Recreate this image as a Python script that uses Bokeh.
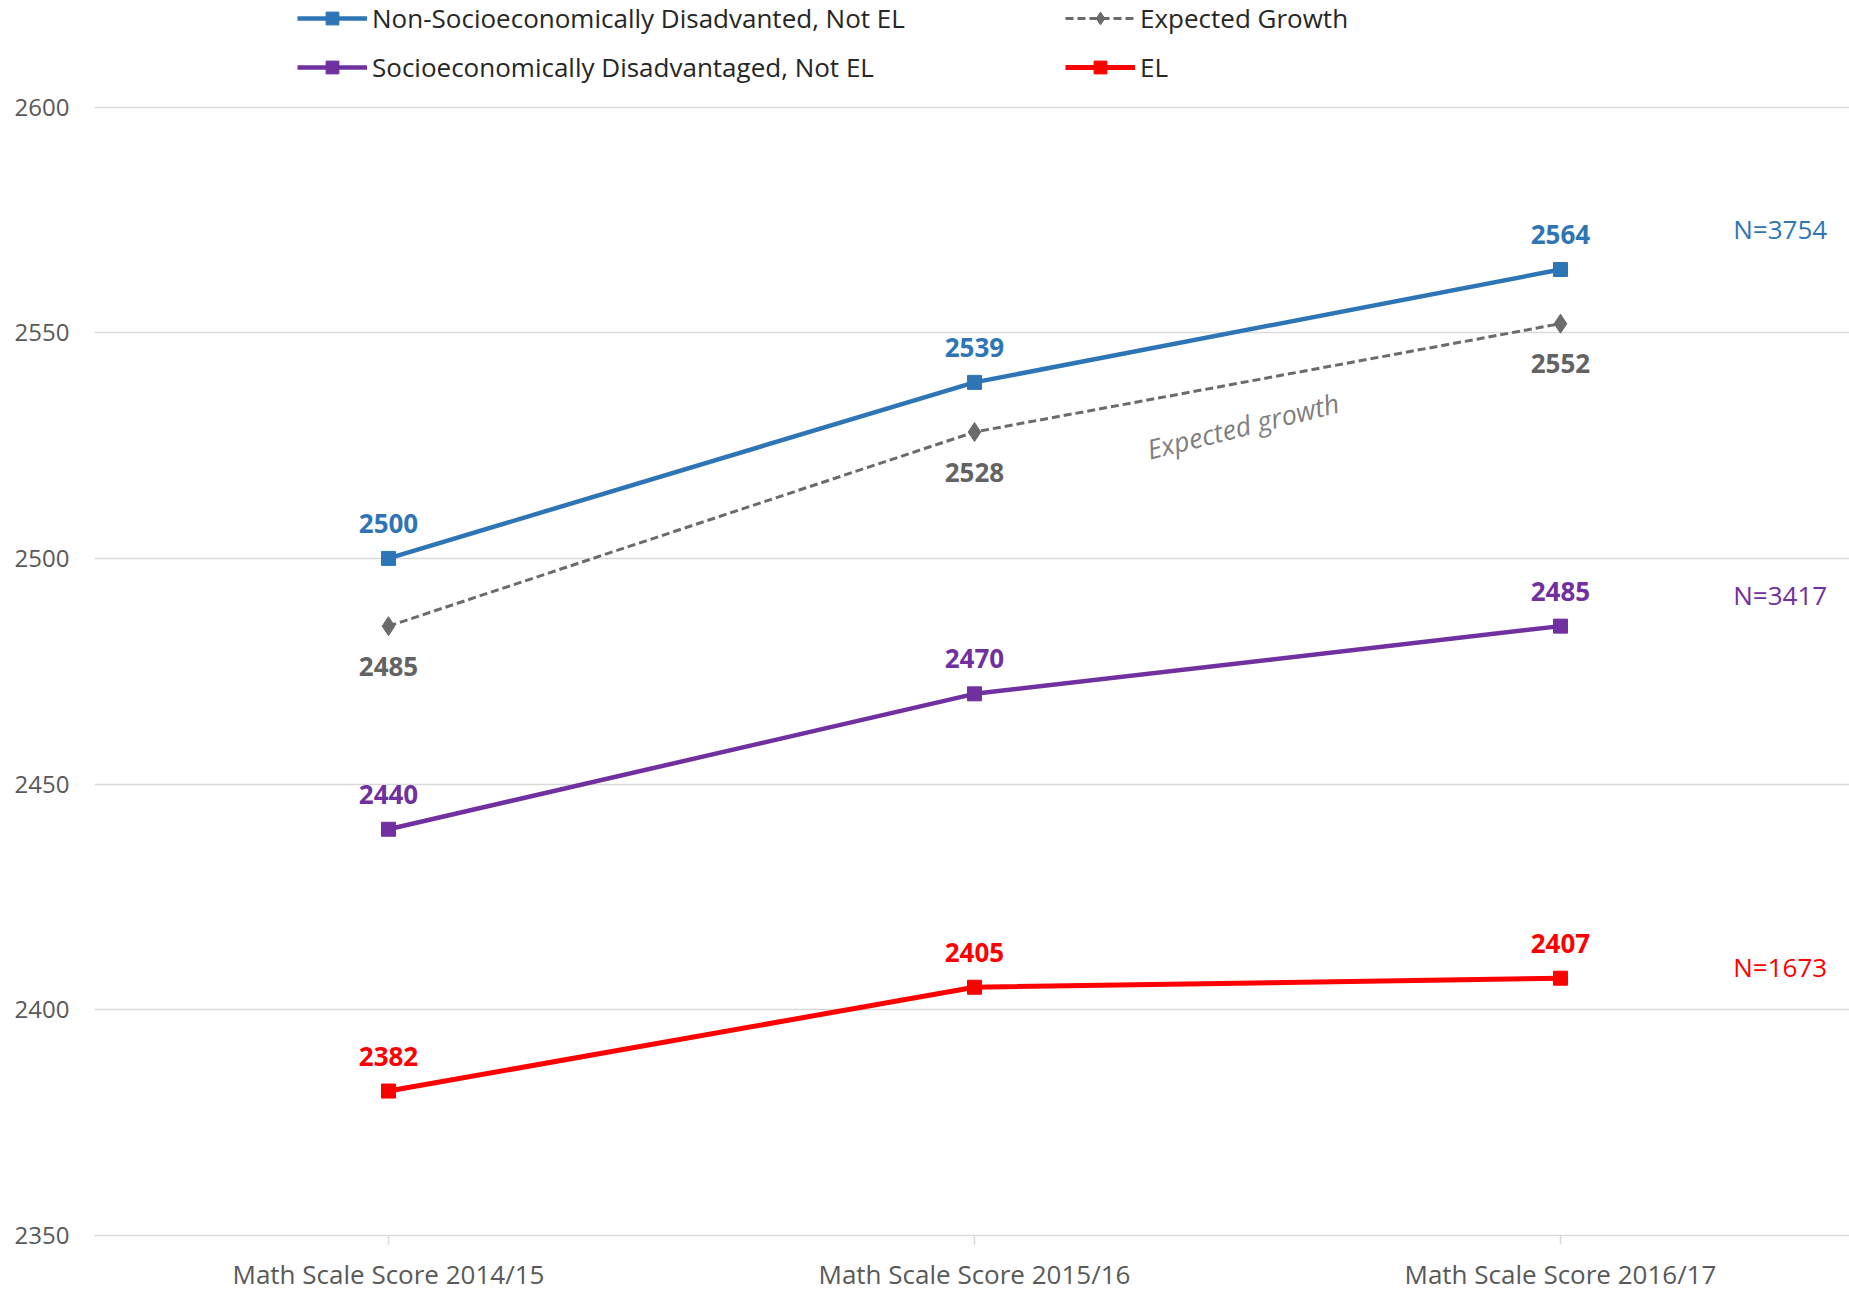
from bokeh.plotting import figure
from bokeh.models import Range1d, FixedTicker, Legend, LegendItem, ColumnDataSource, Label
from bokeh.embed import file_html
from bokeh.resources import INLINE
from bokeh.core.properties import value

categories = ["Math Scale Score 2014/15", "Math Scale Score 2015/16", "Math Scale Score 2016/17"]
non_sed = [2500, 2539, 2564]
expected = [2485, 2528, 2552]
sed = [2440, 2470, 2485]
el = [2382, 2405, 2407]
y_ticks = [2350, 2400, 2450, 2500, 2550, 2600]
n_labels = ["N=3754", "N=3417", "N=1673"]
n_label_y = [2573, 2492, 2409.5]
n_label_x = 2.375

BLUE = "#2E75B6"
PURPLE = "#7030A0"
RED = "#FF0000"
GRAY = "#6B6B6B"
GRAY_TXT = "#636363"
FONT = "Open Sans"

xs = list(range(len(categories)))

p = figure(width=1849, height=1294, output_backend="svg", toolbar_location=None,
           x_range=Range1d(-0.5017, 2.4932), y_range=Range1d(2350, 2623.6),
           min_border_left=94, min_border_right=0, min_border_top=0, min_border_bottom=55)
p.outline_line_color = None
p.background_fill_color = "white"

# axes
p.yaxis.ticker = FixedTicker(ticks=y_ticks)
p.yaxis.axis_line_color = None
p.yaxis.major_tick_line_color = None
p.yaxis.minor_tick_line_color = None
p.yaxis.major_label_standoff = 19
p.yaxis.major_label_text_font = FONT
p.yaxis.major_label_text_font_size = "24px"
p.yaxis.major_label_text_color = "#595959"

p.xaxis.ticker = FixedTicker(ticks=xs)
p.xaxis.major_label_overrides = {i: c for i, c in enumerate(categories)}
p.xaxis.axis_line_color = "#D9D9D9"
p.xaxis.axis_line_width = 1.5
p.xaxis.major_tick_line_color = "#D9D9D9"
p.xaxis.major_tick_line_width = 1.5
p.xaxis.major_tick_in = 0
p.xaxis.major_tick_out = 9
p.xaxis.minor_tick_line_color = None
p.xaxis.major_label_standoff = 11
p.xaxis.major_label_text_font = FONT
p.xaxis.major_label_text_font_size = "26px"
p.xaxis.major_label_text_color = "#595959"

p.xgrid.grid_line_color = None
p.ygrid.grid_line_color = "#D9D9D9"
p.ygrid.grid_line_width = 1.5
p.ygrid.ticker = FixedTicker(ticks=y_ticks)

series = [
    ("Non-Socioeconomically Disadvanted, Not EL", non_sed, BLUE, "solid", 4.5, "square", 14, -35, BLUE),
    ("Expected Growth", expected, GRAY, "8 4", 3, "diamond", 19, 40, GRAY_TXT),
    ("Socioeconomically Disadvantaged, Not EL", sed, PURPLE, "solid", 4.5, "square", 14, -35, PURPLE),
    ("EL", el, RED, "solid", 5, "square", 14, -35, RED),
]

items = {}
for name, ys, color, dash, lw, marker, msize, off, tcolor in series:
    src = ColumnDataSource(dict(x=xs, y=ys, t=[str(v) for v in ys]))
    lr = p.line("x", "y", source=src, line_color=color, line_width=lw, line_dash=dash)
    mr = p.scatter("x", "y", source=src, marker=marker, size=msize,
                   fill_color=color, line_color=color)
    p.text("x", "y", text="t", source=src, y_offset=off, text_align="center", text_baseline="middle",
           text_font=value(FONT), text_font_style="bold", text_font_size="26px", text_color=tcolor)
    items[name] = LegendItem(label=name, renderers=[lr, mr])

# N labels
nsrc = ColumnDataSource(dict(x=[n_label_x] * 3, y=n_label_y, t=n_labels, c=[BLUE, PURPLE, RED]))
p.text("x", "y", text="t", source=nsrc, text_align="center", text_baseline="middle",
       text_font=value(FONT), text_font_size="26px", text_color="c")

p.add_layout(Label(x=1.458, y=2529.4, text="Expected growth", angle=14, angle_units="deg",
                   text_align="center", text_baseline="middle", text_font=FONT,
                   text_font_style="italic", text_font_size="27px", text_color="#7F7F7F"))

def make_legend(its, x):
    lg = Legend(items=its, location=(x, 1150), orientation="vertical",
                border_line_color=None, background_fill_alpha=0, padding=0, margin=0,
                spacing=13, glyph_width=70, glyph_height=32, label_height=32,
                label_standoff=5, label_text_font=FONT, label_text_font_size="26px",
                label_text_color="#262626", label_text_baseline="middle")
    return lg

p.add_layout(make_legend([items["Non-Socioeconomically Disadvanted, Not EL"],
                          items["Socioeconomically Disadvantaged, Not EL"]], 203))
p.add_layout(make_legend([items["Expected Growth"], items["EL"]], 971))

open("out.html", "w").write(file_html(p, INLINE))
